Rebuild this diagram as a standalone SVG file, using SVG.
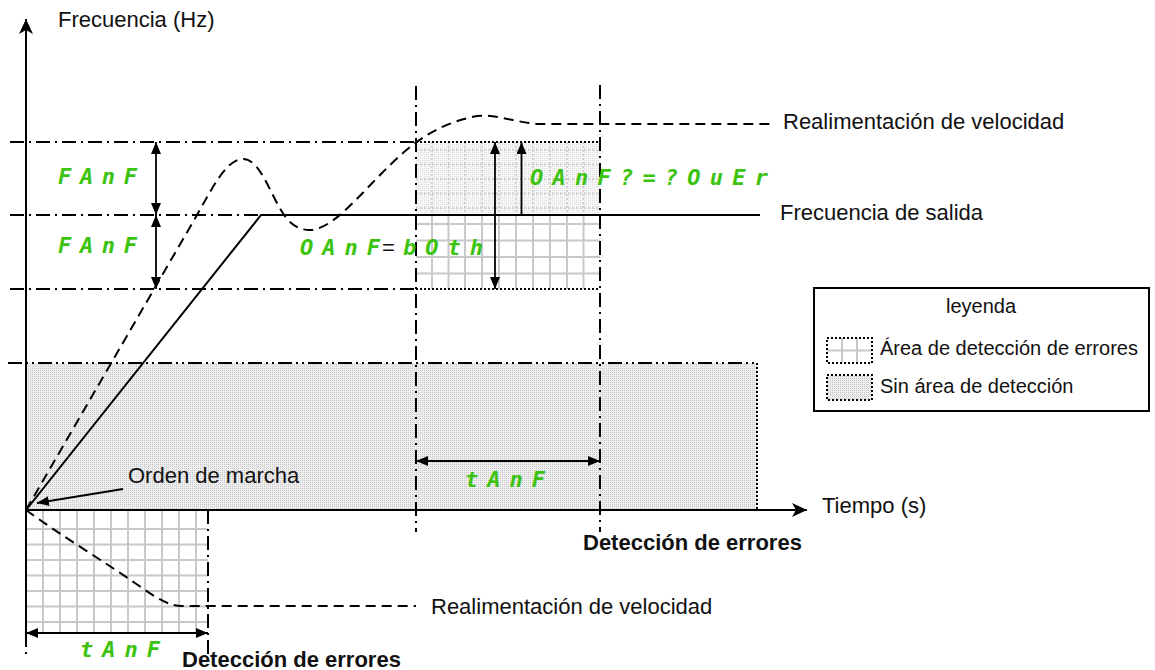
<svg xmlns="http://www.w3.org/2000/svg" width="1155" height="670" viewBox="0 0 1155 670">
<defs>
<style>
.t{font-family:"Liberation Sans",Arial,sans-serif;font-size:22px;fill:#111}
.lg{font-family:"Liberation Sans",Arial,sans-serif;font-size:20px;fill:#111}
.b{font-weight:bold}
.g{font-family:"DejaVu Sans Mono",monospace;font-style:oblique;font-weight:bold;font-size:22px;fill:#3cc30f}
.dd{fill:none;stroke:#000;stroke-width:2;stroke-dasharray:14 5 2 5}
.ddd{fill:none;stroke:#000;stroke-width:2;stroke-dasharray:14 4 2 4 2 4}
.dot{fill:none;stroke:#000;stroke-width:2;stroke-dasharray:2 2}
.dash{fill:none;stroke:#000;stroke-width:2;stroke-dasharray:10 6}
.solid{fill:none;stroke:#000;stroke-width:2}
.arr{fill:none;stroke:#000;stroke-width:1.8;marker-start:url(#tri);marker-end:url(#tri)}
.arr1{fill:none;stroke:#000;stroke-width:1.8;marker-end:url(#tri)}
.grid{stroke:#c8c8cc;stroke-width:2;fill:none}
.gridd{stroke:#c8c8c8;stroke-width:1.5;fill:none;stroke-dasharray:2 2}
</style>
<pattern id="stip" width="2" height="2" patternUnits="userSpaceOnUse"><rect width="2" height="2" fill="#eeeeee"/><rect width="1" height="1" fill="#c8c8c8"/></pattern>
<pattern id="stip2" width="2" height="2" patternUnits="userSpaceOnUse"><rect width="2" height="2" fill="#f8f8f8"/><rect width="1" height="1" fill="#dedede"/></pattern>
<marker id="tri" markerUnits="userSpaceOnUse" markerWidth="12" markerHeight="10" refX="12" refY="5" orient="auto-start-reverse" viewBox="0 0 12 10"><path d="M0,0 L12,5 L0,10 z" fill="#000"/></marker>
<marker id="ax" markerUnits="userSpaceOnUse" markerWidth="16" markerHeight="14" refX="15" refY="7" orient="auto" viewBox="0 0 16 14"><path d="M0,0 L15,7 L0,14 L4,7 z" fill="#000"/></marker>
</defs>
<rect width="1155" height="670" fill="#fff"/>

<g id="zona-sin-deteccion">
<rect x="26" y="363" width="731" height="147" fill="url(#stip)"/>
<path class="ddd" d="M8,363 H757"/>
<path class="dot" d="M757,363 V510"/>
</g>

<g id="zona-deteccion-superior">
<rect x="416" y="142" width="184" height="73" fill="url(#stip2)"/>
<path class="gridd" d="M432,142V215M448.5,142V215M465,142V215M482,142V215M499,142V215M516,142V215M533,142V215M550,142V215M567,142V215M583.5,142V215M416,150H600M416,164.5H600M416,179H600M416,193.5H600M416,208H600"/>
<rect x="416" y="215" width="184" height="74" fill="#fff"/>
<path class="grid" d="M432,215V289M448.5,215V289M465,215V289M482,215V289M499,215V289M516,215V289M533,215V289M550,215V289M567,215V289M583.5,215V289M416,224H600M416,240.5H600M416,257H600M416,273.5H600"/>
<path class="dot" d="M416,142H600M416,289H600"/>
</g>

<g id="zona-deteccion-inferior">
<rect x="26" y="510" width="182" height="123" fill="#fff"/>
<path class="grid" d="M43,510V633M60,510V633M77,510V633M94,510V633M111,510V633M128,510V633M145,510V633M162,510V633M179,510V633M196,510V633M26,529H208M26,544.5H208M26,560H208M26,575.5H208M26,591H208M26,606.5H208M26,622H208"/>
</g>

<g id="lineas-referencia">
<path class="dd" d="M10,142H416"/>
<path class="dd" d="M10,215H261"/>
<path class="dd" d="M10,289H416"/>
<path class="dd" d="M416,86V532"/>
<path class="dd" d="M600,85V532"/>
<path class="dd" d="M208,510V655"/>
<path class="dd" d="M26,633V655"/>
</g>

<g id="curvas">
<path id="frecuencia-salida" class="solid" d="M26,510 L261,215 H760"/>
<path id="realimentacion-1" class="dash" d="M26,510 L193,222 C210,193 225,159 243,159 C262,159 272,202 288,220 C296,228 302,230 310,230 C330,229 350,206 380,175 C405,150 430,125 477,116 C495,114 515,122 537,124 L770,124"/>
<path id="realimentacion-2" class="dash" d="M26,510 C60,535 110,565 145,590 C160,600 170,606 182,606 L416,606"/>
</g>

<g id="ejes">
<path class="solid" d="M26,633 V19" marker-end="url(#ax)"/>
<path class="solid" d="M26,510 H807" marker-end="url(#ax)"/>
</g>

<g id="conectores">
<path class="arr" d="M156,142V215"/>
<path class="arr" d="M156,215V289"/>
<path class="arr" d="M495,142V289"/>
<path class="arr1" d="M521.5,215V142"/>
<path class="arr" d="M416,461H600"/>
<path class="arr" d="M26,633H208"/>
<path class="arr1" d="M123,489 L37,503"/>
</g>

<g id="textos">
<text class="t" x="58" y="27">Frecuencia (Hz)</text>
<text class="t" x="783" y="129">Realimentación de velocidad</text>
<text class="t" x="780" y="220">Frecuencia de salida</text>
<text class="t" x="128" y="483">Orden de marcha</text>
<text class="t" x="822" y="513">Tiempo (s)</text>
<text class="t b" x="583" y="550">Detección de errores</text>
<text class="t" x="431" y="614">Realimentación de velocidad</text>
<text class="t b" x="182" y="667">Detección de errores</text>
<text class="g" x="58" y="184" textLength="79" lengthAdjust="spacing">FAnF</text>
<text class="g" x="58" y="253" textLength="79" lengthAdjust="spacing">FAnF</text>
<text class="g" x="300" y="255" textLength="80" lengthAdjust="spacing">OAnF</text>
<text class="t" x="382" y="255">=</text>
<text class="g" x="403" y="255" textLength="80" lengthAdjust="spacing">bOth</text>
<text class="g" x="530" y="185" textLength="238" lengthAdjust="spacing">OAnF?=?OuEr</text>
<text class="g" x="465" y="487" textLength="80" lengthAdjust="spacing">tAnF</text>
<text class="g" x="80" y="657" textLength="80" lengthAdjust="spacing">tAnF</text>
</g>

<g id="leyenda">
<rect x="814" y="288" width="335" height="123" fill="#fff" stroke="#000" stroke-width="2"/>
<text class="lg" x="981" y="313" text-anchor="middle">leyenda</text>
<rect x="827" y="338" width="45" height="25" fill="#fff"/>
<path class="grid" d="M842,338V363M857,338V363M827,350.5H872"/>
<rect x="827" y="338" width="45" height="25" class="dot"/>
<text class="lg" x="880" y="355">Área de detección de errores</text>
<rect x="827" y="375" width="45" height="25" fill="url(#stip)"/>
<rect x="827" y="375" width="45" height="25" class="dot"/>
<text class="lg" x="880" y="393">Sin área de detección</text>
</g>
</svg>
